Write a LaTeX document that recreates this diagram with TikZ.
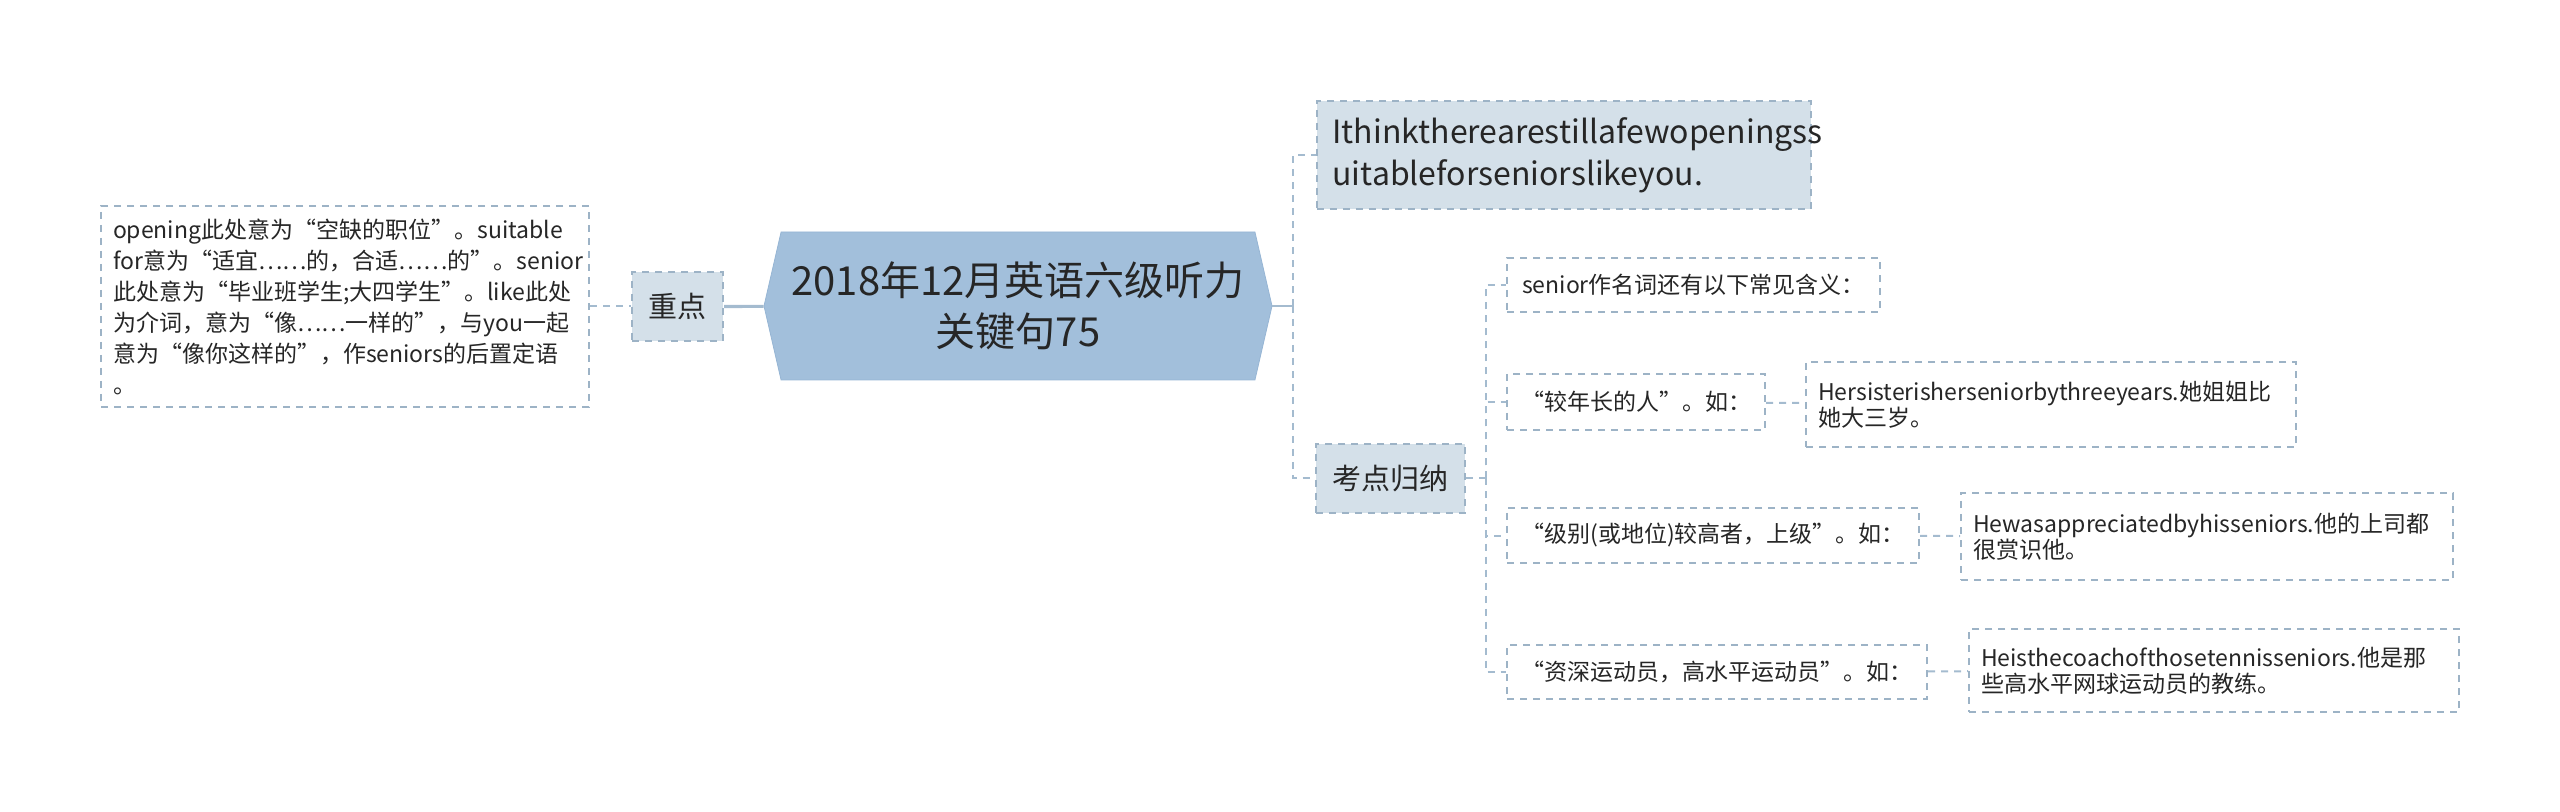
\documentclass[tikz,border=0pt]{standalone}
\usepackage{fontspec}
\setmainfont{Noto Sans CJK SC}
\usepackage{tikz}
\usepackage{xcolor}
\usetikzlibrary{shapes.symbols}

\definecolor{hexfill}{HTML}{A2BFDB}
\definecolor{hexline}{HTML}{96B5D4}
\definecolor{subfill}{HTML}{D4E0E9}
\definecolor{boxline}{HTML}{9DB3C6}
\definecolor{linecol}{HTML}{A4BBCF}
\definecolor{txt}{HTML}{262626}

\tikzset{
  dashes/.style={line width=1pt, dash pattern=on 3.5pt off 3pt},
  link/.style={dashes, draw=linecol},
  trunk/.style={draw=linecol, line width=1.6pt},
  topic/.style={draw=boxline, fill=subfill, dashes, text=txt,
    font=\fontsize{14.5}{17}\selectfont},
  leaf/.style={draw=boxline, fill=white, dashes, text=txt,
    font=\fontsize{11.5}{13}\selectfont},
  wrapleaf/.style={leaf, align=left, inner xsep=6pt}
}

\begin{document}
\begin{tikzpicture}[x=0.5pt, y=-0.5pt]
  \useasboundingbox (0,0) rectangle (2560,812);

  % centre and first level
  \node[signal, signal to=east and west, signal pointer angle=154,
        draw=hexline, fill=hexfill, text=txt, align=center,
        minimum width=254pt, minimum height=74pt,
        font=\fontsize{20}{25.5}\selectfont] (root) at (1018,306)
        {2018年12月英语六级听力\\关键句75};
  \node[topic, minimum width=45.5pt, minimum height=34.5pt] (zhongdian) at (677.5,306.5) {重点};
  \node[topic, align=left, inner xsep=8pt, text width=231pt, minimum height=54pt,
        font=\fontsize{16}{21}\selectfont] (sentence) at (1563.5,155)
        {Ithinktherearestillafewopeningss\\uitableforseniorslikeyou.};
  \node[topic, minimum width=74.5pt, minimum height=34.5pt] (kaodian) at (1390.5,478.5) {考点归纳};

  % left note
  \node[wrapleaf, text width=232pt, minimum height=100.5pt,
        font=\fontsize{11.5}{15.5}\selectfont] (note) at (345,306.5)
        {opening此处意为“空缺的职位”。suitable\\for意为“适宜……的，合适……的”。senior\\此处意为“毕业班学生;大四学生”。like此处\\为介词，意为“像……一样的”，与you一起\\意为“像你这样的”，作seniors的后置定语\\。};

  % second level
  \node[leaf, minimum width=186.5pt, minimum height=27pt] (senior) at (1693.5,285) {senior作名词还有以下常见含义：};
  \node[leaf, minimum width=129pt, minimum height=28pt] (older) at (1636,402) {“较年长的人”。如：};
  \node[leaf, minimum width=206pt, minimum height=27.5pt] (rank) at (1713,535.5) {“级别(或地位)较高者，上级”。如：};
  \node[leaf, minimum width=210pt, minimum height=27pt] (senpl) at (1717,672) {“资深运动员，高水平运动员”。如：};

  % examples
  \node[wrapleaf, text width=233pt, minimum height=42.5pt] (sister) at (2051,404.5)
        {Hersisterisherseniorbythreeyears.她姐姐比\\她大三岁。};
  \node[wrapleaf, text width=234pt, minimum height=43.5pt] (boss) at (2207,536.5)
        {Hewasappreciatedbyhisseniors.他的上司都\\很赏识他。};
  \node[wrapleaf, text width=233pt, minimum height=41.5pt] (coach) at (2214,670.5)
        {Heisthecoachofthosetennisseniors.他是那\\些高水平网球运动员的教练。};

  \coordinate (fork) at (1293,306);
  \coordinate (fork2) at (1486,478.5);

  \draw[link] (note) -- (zhongdian);
  \draw[trunk] (zhongdian) -- (root);
  \draw[trunk, line width=1.3pt] (root.east) -- (fork);
  \draw[link] (fork) |- (sentence.west);
  \draw[link] (fork) |- (kaodian.west);
  \draw[link] (kaodian) -- (fork2);
  \draw[link] (fork2) |- (senior.west);
  \draw[link] (fork2) |- (older.west);
  \draw[link] (fork2) |- (rank.west);
  \draw[link] (fork2) |- (senpl.west);
  \draw[link] (older) -- (sister);
  \draw[link] (rank) -- (boss);
  \draw[link] (senpl) -- (coach);
\end{tikzpicture}
\end{document}
